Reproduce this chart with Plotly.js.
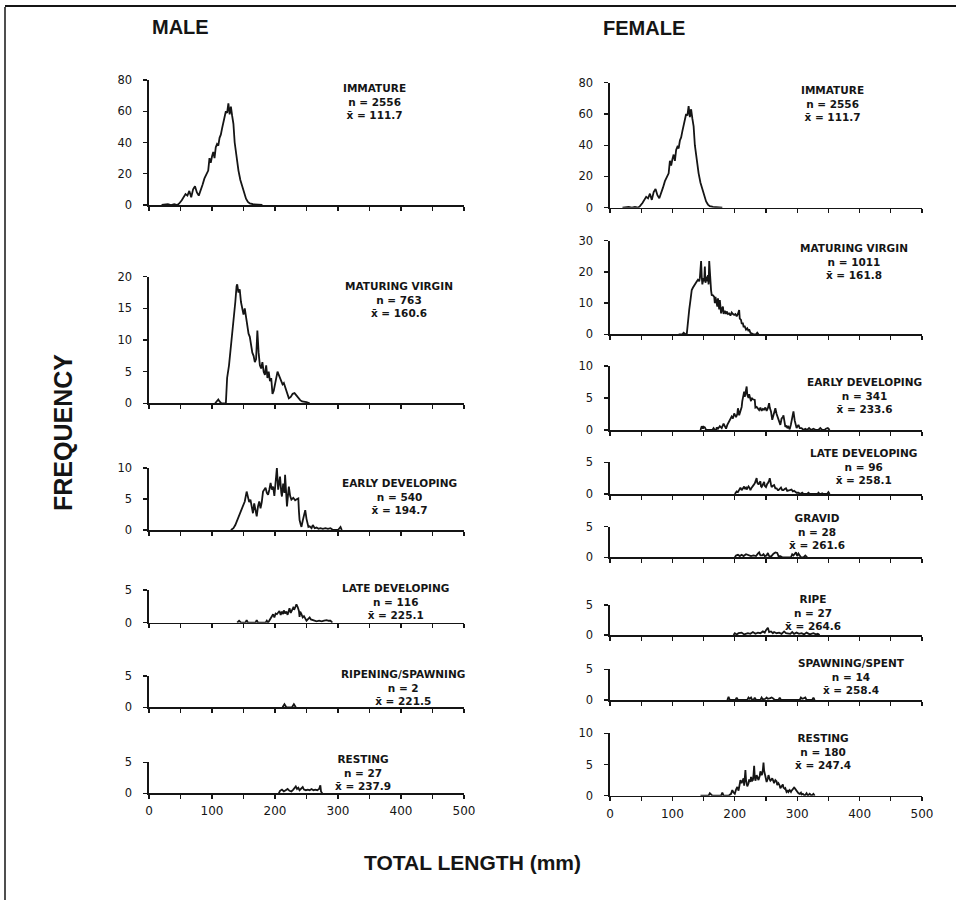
<!DOCTYPE html>
<html><head><meta charset="utf-8">
<script src="https://cdn.plot.ly/plotly-3.0.1.min.js"></script>
<style>html,body{margin:0;padding:0;background:#fff}#chart{width:956px;height:900px}</style>
</head><body><div id="chart"></div>
<script>
// ---- DATA: [total length (mm), frequency] ----
const lengthTicks = [0,50,100,150,200,250,300,350,400,450,500];
const lengthTickLabels = ['0','','100','','200','','300','','400','','500'];

const immature = [[20,0],[30,0.5],[35,0],[40,0.5],[45,0],[48,1],[52,3],[55,5],[58,7],[61,6],[64,9],[67,5],[70,10],[73,12],[76,8],[79,6],[82,9],[85,13],[88,17],[91,20],[94,22],[96,30],[98,27],[100,31],[102,34],[104,30],[106,37],[108,39],[110,38],[112,43],[114,45],[116,49],[118,53],[120,56],[122,60],[124,59],[126,65],[128,58],[130,63],[132,57],[134,52],[136,40],[138,33],[140,27],[142,22],[145,16],[148,12],[151,7],[154,4],[157,2],[160,1],[165,0.5],[170,0.3],[180,0]];

const maleMaturing = [[105,0],[108,0.3],[110,0.6],[112,0.3],[115,0],[122,0],[124,4],[127,6],[129,8],[131,9],[133,11],[135,13],[137,16],[139,18.5],[140,18.8],[142,17.5],[144,18],[146,16],[148,15],[150,14],[152,15],[154,13.5],[156,12.5],[158,11],[160,10.5],[162,9],[164,8],[166,7.5],[168,6.5],[170,7],[172,11.5],[174,8],[176,6],[178,5.5],[180,6.5],[182,5],[184,4.5],[186,6],[188,4],[190,5],[192,3.5],[194,4],[196,1.5],[198,2],[200,3],[202,4],[204,5],[206,4.5],[208,4],[210,3.5],[212,3],[214,3.2],[216,2.5],[218,2],[220,1.2],[222,0.8],[225,1],[228,1.5],[231,1.6],[234,1.2],[237,0.8],[240,0.5],[243,0.3],[246,0.3],[250,0.2],[255,0]];

const maleEarly = [[130,0],[134,0.3],[137,0.8],[140,1.5],[142,2.2],[145,2.8],[147,3.2],[150,4],[152,4.6],[155,6.2],[157,5],[159,4.5],[161,4.9],[163,3.5],[165,2.7],[167,4.3],[169,3.2],[171,2.2],[173,3.8],[175,4.6],[177,3.5],[179,4.5],[181,6.2],[183,6.5],[185,6.8],[187,6],[189,5.7],[191,6.5],[193,7.6],[195,6.5],[197,7],[199,5.5],[201,7.5],[203,10],[205,6.5],[207,7.5],[208,8.6],[210,6],[211,5.4],[213,7.5],[215,6],[216,8.9],[218,5],[219,3.8],[221,6],[222,7],[224,5.5],[226,4.9],[229,5.2],[232,4.8],[235,5],[237,5.1],[238,3],[239,1.6],[241,0.8],[242,0.5],[244,1.5],[246,2.5],[248,3.2],[250,1.8],[251,1.1],[253,0.5],[255,0.6],[258,0.3],[260,0.8],[263,0.3],[266,0.4],[269,0.2],[272,0.3],[276,0.2],[280,0.3],[284,0.2],[288,0.3],[292,0],[300,0],[304,0.5],[306,0]];

const maleLate = [[140,0],[143,0.3],[146,0],[153,0],[155,0.4],[157,0],[169,0],[171,0.4],[173,0],[185,0],[187,0.3],[189,0],[192,0.5],[195,1],[197,1.3],[199,0.8],[201,1.4],[203,1.3],[205,1.6],[207,1.8],[209,1.2],[211,1.7],[213,1.3],[214,1.9],[216,1.4],[218,1.7],[220,1.2],[222,2],[223,2.2],[225,1.5],[227,1.8],[229,2.3],[231,2.1],[233,2.6],[234,2.8],[236,2.4],[238,1.8],[239,0.9],[240,1.7],[242,1.3],[244,0.8],[246,1],[248,0.7],[250,0.3],[252,0.5],[255,0.8],[257,0.5],[260,0.4],[263,0.3],[266,0.2],[270,0.3],[274,0.2],[278,0.3],[282,0.4],[285,0.3],[288,0.3],[291,0]];

const maleRipening = [[212,0],[215,0.5],[218,0],[227,0],[230,0.5],[233,0]];

const maleResting = [[206,0],[208,0.4],[211,0.6],[214,0.3],[217,0.5],[220,0.7],[223,0.4],[226,0.3],[229,0.6],[231,0.8],[233,1.1],[235,0.7],[237,0.9],[239,0.5],[242,0.8],[244,1.0],[246,0.6],[249,0.5],[252,0.6],[255,0.5],[258,0.7],[261,0.5],[264,0.6],[267,0.5],[270,0.7],[272,1.3],[273,0.3],[275,0]];

const femaleMaturing = [[110,0],[116,0],[118,0.5],[121,0],[123,0],[125,4.6],[127,8],[129,11],[131,14.2],[133,15],[135,15.8],[137,16.5],[139,16.9],[141,17.5],[143,17],[144,18],[146,23.5],[147,18.5],[148,16],[150,18],[151,17],[152,21.7],[153,16.5],[154,18.5],[156,17],[157,19],[158,16],[159,23.5],[160,19],[161,17.4],[162,14],[163,12.6],[165,12.5],[167,12],[168,10],[169,12],[170,11],[171,9.5],[172,8.9],[173,11.5],[175,8],[176,11],[177,7],[178,6.7],[180,8.5],[181,8.9],[182,6.5],[184,7.5],[186,6.5],[187,7.3],[189,6.5],[191,6.7],[193,6],[195,7],[197,6.5],[199,6.2],[201,6.5],[203,5.8],[205,6.5],[207,7.8],[208,5],[210,4.6],[211,3.5],[213,3.5],[214,2.5],[216,2.5],[218,1.5],[220,1.9],[222,1],[223,1.6],[225,0.5],[227,0.3],[230,0],[234,0],[236,0.5],[238,0]];

const femaleEarly = [[145,0],[147,0.6],[149,0.2],[150,0.5],[152,0.4],[154,0],[164,0],[166,0.3],[168,0],[170,0],[171,0.4],[173,0.2],[176,0.6],[179,0.3],[182,1],[184,0.5],[186,0.2],[188,0.8],[190,1.2],[192,1.5],[193,1.8],[195,2.1],[197,1.8],[199,2.6],[201,2.2],[202,2],[204,2.5],[205,3.4],[207,2.3],[208,2.6],[210,3],[211,3.6],[212,4.5],[214,5.7],[215,6],[216,5.2],[218,6],[219,6.8],[220,5.5],[222,5],[223,5.6],[224,5.2],[226,4.5],[227,5],[229,4.8],[232,4.7],[233,3.5],[235,3.6],[237,3.3],[239,3.1],[241,3.5],[243,3],[245,3.3],[247,3.2],[249,3.5],[251,3],[253,3.4],[255,4.2],[256,3.5],[258,2.9],[260,1.6],[262,2.5],[264,3],[265,3.4],[267,2.5],[269,2],[270,1.5],[272,1],[273,0.8],[275,1.8],[277,2],[278,2.3],[280,1],[281,0.5],[283,0.7],[284,0.3],[286,0.5],[288,0.1],[290,0.9],[291,1.3],[293,2.2],[294,2.9],[296,1.5],[297,1],[299,0.3],[300,0.5],[302,0.8],[304,0.3],[307,0.3],[310,0],[313,0.2],[316,0],[319,0.3],[322,0],[326,0.2],[330,0],[334,0],[337,0.3],[340,0],[344,0],[346,0.2],[349,0.3],[352,0]];

const femaleLate = [[200,0],[203,0.4],[205,0.3],[207,0.8],[209,1],[211,0.6],[213,0.9],[215,1.2],[216,0.8],[218,1],[219,0.7],[221,1.1],[222,1.2],[224,0.9],[225,0.6],[227,1],[228,1.2],[230,1.4],[232,1.7],[233,2],[235,2.5],[236,1.8],[238,1.5],[239,1.7],[241,2],[242,1.2],[243,1.1],[245,1.5],[247,1.9],[248,1.3],[250,1.1],[252,1.6],[253,1.7],[255,2.1],[256,2.5],[258,1.5],[259,1.1],[261,1.3],[263,1.4],[265,0.9],[267,0.9],[269,0.6],[270,0.6],[272,0.8],[274,1],[276,0.6],[278,0.6],[280,0.8],[282,0.9],[284,0.5],[286,0.5],[288,0.6],[291,0.7],[293,0.4],[295,0.5],[297,0.4],[299,0.2],[302,0.2],[305,0],[308,0.2],[310,0],[316,0],[318,0.2],[320,0],[327,0],[329,0.1],[331,0],[333,0],[334,0.2],[336,0],[338,0],[340,0.1],[342,0],[348,0],[350,0.3],[352,0]];

const femaleGravid = [[200,0],[202,0.3],[205,0.4],[208,0.2],[211,0.4],[214,0.2],[218,0.5],[222,0.3],[226,0.2],[230,0.3],[234,0.2],[237,0.6],[239,0.8],[241,0.3],[244,0.3],[246,0.5],[248,0.2],[251,0.3],[253,0.7],[255,0.2],[258,0.1],[262,0.6],[265,0.8],[268,0.7],[270,0.2],[273,0.2],[276,0],[290,0],[292,0.5],[294,0.3],[296,0.6],[298,0.8],[300,0.2],[302,0.6],[304,0.3],[306,0],[310,0],[313,0.3],[316,0]];

const femaleRipe = [[198,0],[200,0.3],[203,0.1],[206,0.3],[211,0.4],[215,0.1],[221,0.3],[225,0.2],[229,0.5],[233,0.2],[237,0.4],[241,0.3],[245,0.6],[248,0.4],[250,0.8],[253,1.2],[255,0.5],[258,0.6],[261,0.3],[263,0.5],[267,0.3],[271,0.4],[275,0.2],[279,0.6],[282,0.3],[286,0.3],[289,0.2],[292,0.5],[295,0.2],[299,0.4],[303,0.2],[307,0.3],[311,0.1],[315,0.4],[320,0.1],[326,0.3],[330,0.1],[333,0.2],[336,0]];

const femaleSpawning = [[188,0],[190,0.5],[192,0],[201,0],[203,0.4],[205,0],[220,0],[222,0.4],[224,0.2],[226,0.4],[228,0],[230,0],[232,0.4],[234,0],[241,0],[243,0.4],[245,0.1],[249,0.2],[251,0.4],[253,0.2],[257,0.3],[259,0.4],[261,0.3],[264,0],[270,0],[272,0.4],[274,0],[304,0],[306,0.4],[308,0.2],[311,0.3],[313,0.4],[315,0],[324,0],[326,0.4],[328,0]];

const femaleResting = [[145,0],[158,0],[160,0.4],[162,0.2],[164,0],[178,0],[180,0.5],[182,0],[190,0],[194,0.3],[196,0.9],[198,0.5],[200,0.3],[202,1.0],[204,1.4],[206,0.8],[208,1.8],[209,2.5],[211,2],[212,2.3],[214,2.8],[215,1.6],[217,4.1],[218,2.5],[220,1.5],[222,2],[223,2.6],[225,2.2],[226,3.0],[228,2.4],[229,2.5],[230,3.4],[231,4.8],[232,3],[233,2.4],[235,3.3],[237,2.6],[238,2.5],[240,3.2],[241,3.9],[243,3.3],[244,3.5],[245,4.2],[246,5.3],[247,4],[249,3.2],[250,2.6],[251,2.2],[253,2.8],[254,3.3],[256,2.6],[257,2.4],[259,2.6],[260,2.8],[262,2.3],[263,2],[265,2.5],[267,2.3],[268,1.7],[270,2],[272,1.6],[273,1.2],[275,1.5],[277,1.8],[278,1.3],[280,1.1],[281,1.2],[283,0.6],[285,0.8],[286,0.6],[288,0.9],[290,0.6],[291,0.8],[293,1],[295,1.3],[296,1.2],[298,0.9],[300,0.7],[302,0.4],[304,0.3],[306,0.5],[307,0.2],[309,0.3],[312,0],[315,0.4],[317,0],[320,0.3],[323,0],[326,0.3],[328,0]];

// ---- PANELS (layout in page pixels) ----
const W = 956, H = 900;
const colX = { m: [149, 464], f: [610, 922] };
const panels = [
  {col:'m', data:immature,      ymax:80, yticks:[0,20,40,60,80], py0:205,   pyTop:80,    label:'IMMATURE',          n:'2556', mean:'111.7', lx:374, ly:102},
  {col:'m', data:maleMaturing,  ymax:20, yticks:[0,5,10,15,20],  py0:403.3, pyTop:276.7, label:'MATURING VIRGIN',   n:'763',  mean:'160.6', lx:399, ly:300},
  {col:'m', data:maleEarly,     ymax:10, yticks:[0,5,10],        py0:530,   pyTop:468,   label:'EARLY DEVELOPING',  n:'540',  mean:'194.7', lx:399, ly:497},
  {col:'m', data:maleLate,      ymax:5,  yticks:[0,5],           py0:622.7, pyTop:590,   label:'LATE DEVELOPING',   n:'116',  mean:'225.1', lx:395, ly:601},
  {col:'m', data:maleRipening,  ymax:5,  yticks:[0,5],           py0:707.3, pyTop:676,   label:'RIPENING/SPAWNING', n:'2',    mean:'221.5', lx:403, ly:687},
  {col:'m', data:maleResting,   ymax:5,  yticks:[0,5],           py0:793.3, pyTop:762.3, label:'RESTING',           n:'27',   mean:'237.9', lx:363, ly:772, bottom:true},
  {col:'f', data:immature,      ymax:80, yticks:[0,20,40,60,80], py0:207.7, pyTop:82.7,  label:'IMMATURE',          n:'2556', mean:'111.7', lx:832, ly:103},
  {col:'f', data:femaleMaturing,ymax:30, yticks:[0,10,20,30],    py0:334.3, pyTop:240.7, label:'MATURING VIRGIN',   n:'1011', mean:'161.8', lx:854, ly:261},
  {col:'f', data:femaleEarly,   ymax:10, yticks:[0,5,10],        py0:430,   pyTop:366,   label:'EARLY DEVELOPING',  n:'341',  mean:'233.6', lx:864, ly:396},
  {col:'f', data:femaleLate,    ymax:5,  yticks:[0,5],           py0:494,   pyTop:462.3, label:'LATE DEVELOPING',   n:'96',   mean:'258.1', lx:863, ly:466},
  {col:'f', data:femaleGravid,  ymax:5,  yticks:[0,5],           py0:557.3, pyTop:526.7, label:'GRAVID',            n:'28',   mean:'261.6', lx:817, ly:531},
  {col:'f', data:femaleRipe,    ymax:5,  yticks:[0,5],           py0:635,   pyTop:605,   label:'RIPE',              n:'27',   mean:'264.6', lx:813, ly:612},
  {col:'f', data:femaleSpawning,ymax:5,  yticks:[0,5],           py0:700,   pyTop:669.3, label:'SPAWNING/SPENT',    n:'14',   mean:'258.4', lx:851, ly:676},
  {col:'f', data:femaleResting, ymax:10, yticks:[0,5,10],        py0:795.7, pyTop:733.3, label:'RESTING',           n:'180',  mean:'247.4', lx:823, ly:751, bottom:true}
];

const ink = '#151515';
const traces = [];
const layout = {
  width: W, height: H, margin: {l:0, r:0, t:0, b:0},
  paper_bgcolor: '#fff', plot_bgcolor: 'rgba(0,0,0,0)',
  showlegend: false,
  font: {family: 'DejaVu Sans, Arial, sans-serif', color: ink},
  annotations: [], shapes: []
};

panels.forEach((p, i) => {
  const k = i + 1;
  const xa = 'xaxis' + k, ya = 'yaxis' + k;
  traces.push({
    type: 'scatter', mode: 'lines',
    x: p.data.map(d => d[0]), y: p.data.map(d => d[1]),
    xaxis: 'x' + k, yaxis: 'y' + k,
    line: {color: ink, width: 1.8}, hoverinfo: 'skip'
  });
  layout[xa] = {
    domain: [colX[p.col][0] / W, colX[p.col][1] / W],
    anchor: 'y' + k, range: [0, 500],
    tickmode: 'array', tickvals: lengthTicks, ticktext: lengthTickLabels,
    showticklabels: !!p.bottom,
    ticks: 'outside', ticklen: 4, tickwidth: 1.4, tickcolor: ink,
    showline: true, linecolor: ink, linewidth: 1.6,
    showgrid: false, zeroline: false, fixedrange: true,
    tickfont: {family: 'DejaVu Sans, Arial, sans-serif', size: 12, color: ink},
    ticklabelstandoff: 2
  };
  layout[ya] = {
    domain: [1 - p.py0 / H, 1 - p.pyTop / H],
    anchor: 'x' + k, range: [0, p.ymax],
    tickmode: 'array', tickvals: p.yticks,
    ticks: 'outside', ticklen: 4, tickwidth: 1.4, tickcolor: ink,
    showline: true, linecolor: ink, linewidth: 1.6,
    showgrid: false, zeroline: false, fixedrange: true,
    tickfont: {family: 'DejaVu Sans, Arial, sans-serif', size: 11.5, color: ink},
    ticklabelstandoff: 9
  };
  layout.annotations.push({
    xref: 'paper', yref: 'paper', x: p.lx / W, y: 1 - p.ly / H,
    xanchor: 'center', yanchor: 'middle', showarrow: false, align: 'center',
    text: p.label + '<br>n = ' + p.n + '<br>x\u0304 = ' + p.mean,
    font: {family: 'DejaVu Sans, Arial, sans-serif', size: 10.5, color: ink, weight: 'bold'}
  });
});

const titleFont = (s) => ({family: 'Liberation Sans, Arial, sans-serif', size: s, color: ink, weight: 'bold'});
layout.annotations.push(
  {xref:'paper', yref:'paper', x:180/W, y:1-27/H, xanchor:'center', yanchor:'middle', showarrow:false, text:'MALE', font:titleFont(20)},
  {xref:'paper', yref:'paper', x:644/W, y:1-28/H, xanchor:'center', yanchor:'middle', showarrow:false, text:'FEMALE', font:titleFont(20)},
  {xref:'paper', yref:'paper', x:63/W, y:1-433/H, xanchor:'center', yanchor:'middle', showarrow:false, textangle:-90, text:'FREQUENCY', font:titleFont(25)},
  {xref:'paper', yref:'paper', x:472/W, y:1-862/H, xanchor:'center', yanchor:'middle', showarrow:false, text:'TOTAL LENGTH (mm)', font:titleFont(21)}
);

// frame of the figure (left and top border)
layout.shapes.push(
  {type:'line', xref:'paper', yref:'paper', x0:5/W, x1:5/W, y0:0, y1:1-7/H, line:{color:ink, width:1.5}},
  {type:'line', xref:'paper', yref:'paper', x0:5/W, x1:1, y0:1-6/H, y1:1-6/H, line:{color:ink, width:2}}
);

Plotly.newPlot('chart', traces, layout, {staticPlot: true, displayModeBar: false});
</script>
</body></html>
